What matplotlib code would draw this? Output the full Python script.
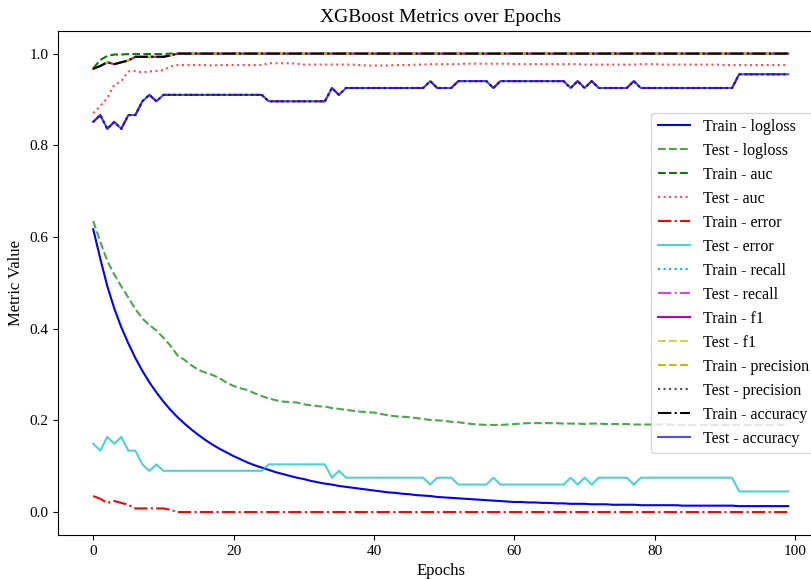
import matplotlib
matplotlib.use('Agg')
import matplotlib.pyplot as plt
import numpy as np

plt.rcParams['font.family'] = ['Liberation Serif', 'DejaVu Serif']

epochs = np.arange(100)

train_logloss = [
    0.617, 0.553, 0.493, 0.444, 0.403, 0.368, 0.336, 0.308, 0.283, 0.261,
    0.241, 0.223, 0.207, 0.193, 0.180, 0.168, 0.157, 0.147, 0.138, 0.130,
    0.122, 0.115, 0.108, 0.102, 0.097, 0.092, 0.087, 0.083, 0.079, 0.075,
    0.072, 0.068, 0.065, 0.062, 0.060, 0.057, 0.055, 0.053, 0.051, 0.049,
    0.047, 0.045, 0.043, 0.042, 0.040, 0.039, 0.037, 0.036, 0.035, 0.033,
    0.032, 0.031, 0.030, 0.029, 0.028, 0.027, 0.026, 0.025, 0.024, 0.023,
    0.022, 0.022, 0.021, 0.021, 0.020, 0.020, 0.019, 0.019, 0.018, 0.018,
    0.018, 0.017, 0.017, 0.017, 0.016, 0.016, 0.016, 0.016, 0.015, 0.015,
    0.015, 0.015, 0.015, 0.015, 0.014, 0.014, 0.014, 0.014, 0.014, 0.014,
    0.014, 0.014, 0.013, 0.013, 0.013, 0.013, 0.013, 0.013, 0.013, 0.013]
test_logloss = [
    0.635, 0.590, 0.548, 0.518, 0.492, 0.468, 0.443, 0.422, 0.408, 0.396,
    0.380, 0.363, 0.342, 0.332, 0.320, 0.310, 0.304, 0.299, 0.292, 0.282,
    0.275, 0.270, 0.266, 0.259, 0.253, 0.248, 0.244, 0.241, 0.240, 0.239,
    0.235, 0.233, 0.231, 0.230, 0.227, 0.225, 0.223, 0.221, 0.219, 0.218,
    0.217, 0.214, 0.211, 0.209, 0.208, 0.207, 0.205, 0.203, 0.201, 0.200,
    0.199, 0.197, 0.196, 0.194, 0.192, 0.191, 0.190, 0.190, 0.190, 0.191,
    0.192, 0.193, 0.194, 0.194, 0.194, 0.194, 0.194, 0.193, 0.193, 0.193,
    0.192, 0.193, 0.193, 0.192, 0.192, 0.192, 0.192, 0.191, 0.191, 0.191,
    0.191, 0.191, 0.191, 0.190, 0.190, 0.190, 0.190, 0.190, 0.190, 0.190,
    0.190, 0.190, 0.190, 0.190, 0.190, 0.190, 0.190, 0.190, 0.190, 0.190]
train_auc = [
    0.968, 0.986, 0.995, 0.998, 0.998, 0.999, 0.999, 0.999, 0.999, 0.999,
    0.999, 1.0, 1.0, 1.0, 1.0, 1.0, 1.0, 1.0, 1.0, 1.0,
    1.0, 1.0, 1.0, 1.0, 1.0, 1.0, 1.0, 1.0, 1.0, 1.0,
    1.0, 1.0, 1.0, 1.0, 1.0, 1.0, 1.0, 1.0, 1.0, 1.0,
    1.0, 1.0, 1.0, 1.0, 1.0, 1.0, 1.0, 1.0, 1.0, 1.0,
    1.0, 1.0, 1.0, 1.0, 1.0, 1.0, 1.0, 1.0, 1.0, 1.0,
    1.0, 1.0, 1.0, 1.0, 1.0, 1.0, 1.0, 1.0, 1.0, 1.0,
    1.0, 1.0, 1.0, 1.0, 1.0, 1.0, 1.0, 1.0, 1.0, 1.0,
    1.0, 1.0, 1.0, 1.0, 1.0, 1.0, 1.0, 1.0, 1.0, 1.0,
    1.0, 1.0, 1.0, 1.0, 1.0, 1.0, 1.0, 1.0, 1.0, 1.0]
test_auc = [
    0.870, 0.886, 0.903, 0.932, 0.940, 0.961, 0.962, 0.959, 0.961, 0.962,
    0.964, 0.972, 0.975, 0.975, 0.975, 0.975, 0.975, 0.974, 0.975, 0.975,
    0.975, 0.975, 0.975, 0.975, 0.975, 0.979, 0.979, 0.979, 0.979, 0.978,
    0.976, 0.976, 0.976, 0.976, 0.976, 0.976, 0.976, 0.976, 0.975, 0.974,
    0.974, 0.974, 0.974, 0.975, 0.975, 0.975, 0.976, 0.976, 0.977, 0.977,
    0.977, 0.977, 0.977, 0.978, 0.978, 0.978, 0.978, 0.978, 0.978, 0.978,
    0.977, 0.977, 0.977, 0.977, 0.977, 0.977, 0.977, 0.977, 0.977, 0.977,
    0.976, 0.976, 0.976, 0.976, 0.976, 0.976, 0.976, 0.976, 0.977, 0.977,
    0.977, 0.976, 0.976, 0.976, 0.976, 0.976, 0.976, 0.976, 0.976, 0.976,
    0.975, 0.975, 0.975, 0.975, 0.975, 0.975, 0.975, 0.975, 0.975, 0.975]
train_error = [
    0.035, 0.029, 0.020, 0.024, 0.020, 0.016, 0.008, 0.008, 0.008, 0.008,
    0.008, 0.005, 0.0, 0.0, 0.0, 0.0, 0.0, 0.0, 0.0, 0.0,
    0.0, 0.0, 0.0, 0.0, 0.0, 0.0, 0.0, 0.0, 0.0, 0.0,
    0.0, 0.0, 0.0, 0.0, 0.0, 0.0, 0.0, 0.0, 0.0, 0.0,
    0.0, 0.0, 0.0, 0.0, 0.0, 0.0, 0.0, 0.0, 0.0, 0.0,
    0.0, 0.0, 0.0, 0.0, 0.0, 0.0, 0.0, 0.0, 0.0, 0.0,
    0.0, 0.0, 0.0, 0.0, 0.0, 0.0, 0.0, 0.0, 0.0, 0.0,
    0.0, 0.0, 0.0, 0.0, 0.0, 0.0, 0.0, 0.0, 0.0, 0.0,
    0.0, 0.0, 0.0, 0.0, 0.0, 0.0, 0.0, 0.0, 0.0, 0.0,
    0.0, 0.0, 0.0, 0.0, 0.0, 0.0, 0.0, 0.0, 0.0, 0.0]
test_error = [
    0.149, 0.134, 0.164, 0.149, 0.164, 0.134, 0.134, 0.104, 0.090, 0.104,
    0.090, 0.090, 0.090, 0.090, 0.090, 0.090, 0.090, 0.090, 0.090, 0.090,
    0.090, 0.090, 0.090, 0.090, 0.090, 0.104, 0.104, 0.104, 0.104, 0.104,
    0.104, 0.104, 0.104, 0.104, 0.075, 0.090, 0.075, 0.075, 0.075, 0.075,
    0.075, 0.075, 0.075, 0.075, 0.075, 0.075, 0.075, 0.075, 0.060, 0.075,
    0.075, 0.075, 0.060, 0.060, 0.060, 0.060, 0.060, 0.075, 0.060, 0.060,
    0.060, 0.060, 0.060, 0.060, 0.060, 0.060, 0.060, 0.060, 0.075, 0.060,
    0.075, 0.060, 0.075, 0.075, 0.075, 0.075, 0.075, 0.060, 0.075, 0.075,
    0.075, 0.075, 0.075, 0.075, 0.075, 0.075, 0.075, 0.075, 0.075, 0.075,
    0.075, 0.075, 0.045, 0.045, 0.045, 0.045, 0.045, 0.045, 0.045, 0.045]
train_accuracy = [
    0.967, 0.973, 0.981, 0.977, 0.981, 0.985, 0.993, 0.993, 0.993, 0.993,
    0.993, 0.996, 1.0, 1.0, 1.0, 1.0, 1.0, 1.0, 1.0, 1.0,
    1.0, 1.0, 1.0, 1.0, 1.0, 1.0, 1.0, 1.0, 1.0, 1.0,
    1.0, 1.0, 1.0, 1.0, 1.0, 1.0, 1.0, 1.0, 1.0, 1.0,
    1.0, 1.0, 1.0, 1.0, 1.0, 1.0, 1.0, 1.0, 1.0, 1.0,
    1.0, 1.0, 1.0, 1.0, 1.0, 1.0, 1.0, 1.0, 1.0, 1.0,
    1.0, 1.0, 1.0, 1.0, 1.0, 1.0, 1.0, 1.0, 1.0, 1.0,
    1.0, 1.0, 1.0, 1.0, 1.0, 1.0, 1.0, 1.0, 1.0, 1.0,
    1.0, 1.0, 1.0, 1.0, 1.0, 1.0, 1.0, 1.0, 1.0, 1.0,
    1.0, 1.0, 1.0, 1.0, 1.0, 1.0, 1.0, 1.0, 1.0, 1.0]
test_accuracy = [
    0.851, 0.866, 0.836, 0.851, 0.836, 0.866, 0.866, 0.896, 0.910, 0.896,
    0.910, 0.910, 0.910, 0.910, 0.910, 0.910, 0.910, 0.910, 0.910, 0.910,
    0.910, 0.910, 0.910, 0.910, 0.910, 0.896, 0.896, 0.896, 0.896, 0.896,
    0.896, 0.896, 0.896, 0.896, 0.925, 0.910, 0.925, 0.925, 0.925, 0.925,
    0.925, 0.925, 0.925, 0.925, 0.925, 0.925, 0.925, 0.925, 0.940, 0.925,
    0.925, 0.925, 0.940, 0.940, 0.940, 0.940, 0.940, 0.925, 0.940, 0.940,
    0.940, 0.940, 0.940, 0.940, 0.940, 0.940, 0.940, 0.940, 0.925, 0.940,
    0.925, 0.940, 0.925, 0.925, 0.925, 0.925, 0.925, 0.940, 0.925, 0.925,
    0.925, 0.925, 0.925, 0.925, 0.925, 0.925, 0.925, 0.925, 0.925, 0.925,
    0.925, 0.925, 0.955, 0.955, 0.955, 0.955, 0.955, 0.955, 0.955, 0.955]
# recall / f1 / precision track the accuracy curves in the picture
train_recall = train_accuracy
train_f1 = train_accuracy
train_precision = train_accuracy
test_recall = test_accuracy
test_f1 = test_accuracy
test_precision = test_accuracy

metrics = ['logloss', 'auc', 'error', 'recall', 'f1', 'precision', 'accuracy']
train_vals = [train_logloss, train_auc, train_error, train_recall, train_f1, train_precision, train_accuracy]
test_vals = [test_logloss, test_auc, test_error, test_recall, test_f1, test_precision, test_accuracy]
train_styles = ['b-', 'g--', 'r-.', 'c:', 'm-', 'y--', 'k-.']
test_styles = ['g--', 'r:', 'c-', 'm-.', 'y--', 'k:', 'b-']

fig = plt.figure(figsize=(8.11, 5.79), dpi=100)
ax = fig.add_axes([0.0721, 0.076, 0.9427, 0.871])

for i, m in enumerate(metrics):
    ax.plot(epochs, train_vals[i], train_styles[i], label='Train - ' + m)
    ax.plot(epochs, test_vals[i], test_styles[i], alpha=0.7, label='Test - ' + m)

ax.set_title('XGBoost Metrics over Epochs', fontsize=14)
ax.set_xlabel('Epochs', fontsize=12)
ax.set_ylabel('Metric Value', fontsize=12)
ax.tick_params(labelsize=11)
ax.legend(loc='center right', fontsize=11.5)

fig.savefig('out.png', dpi=100)
